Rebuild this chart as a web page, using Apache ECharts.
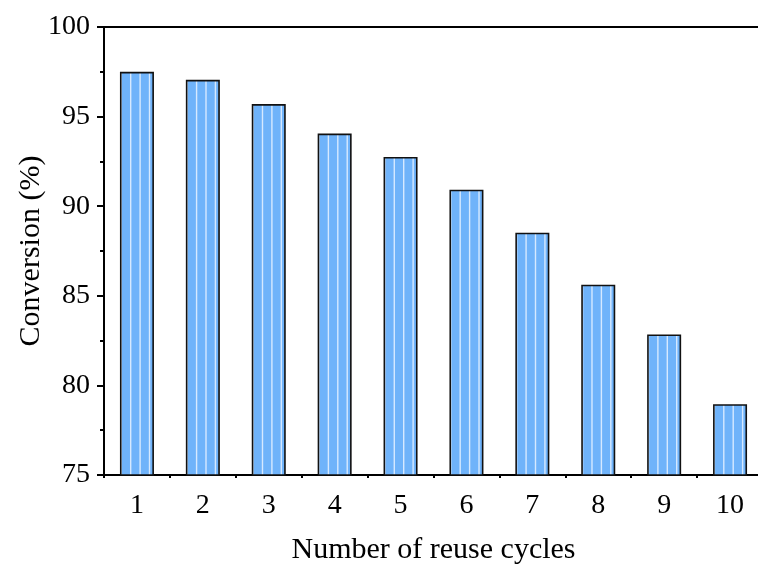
<!DOCTYPE html>
<html>
<head>
<meta charset="utf-8">
<script src="https://cdn.jsdelivr.net/npm/echarts@6/dist/echarts.min.js"></script>
<style>html,body{margin:0;padding:0;background:#fff;}#chart{width:758px;height:566px;}</style>
</head>
<body>
<div id="chart"></div>
<script>
var categories = ['1','2','3','4','5','6','7','8','9','10'];
var conversion = [97.5, 97.05, 95.7, 94.05, 92.75, 90.92, 88.52, 85.62, 82.84, 78.95];
var yTicks = [75, 80, 85, 90, 95, 100];

var FONT = '"Liberation Serif", "Times New Roman", serif';
var gridLeft = 104, gridWidth = 659;
var step = gridWidth / categories.length;

// striped fill pattern
var pat = document.createElement('canvas');
pat.width = gridWidth; pat.height = 4;
var pc = pat.getContext('2d');
pc.fillStyle = '#6fb3fa';
pc.fillRect(0, 0, pat.width, pat.height);
pc.fillStyle = '#d6e9ff';
var period = step / 7;
for (var x = 7.6 - period; x < pat.width; x += period) {
  pc.fillRect(x, 0, 1.4, pat.height);
}

var chart = echarts.init(document.getElementById('chart'));
chart.setOption({
  animation: false,
  backgroundColor: '#fff',
  grid: {left: gridLeft, top: 27, width: gridWidth, height: 448, outerBoundsMode: 'none', containLabel: false},
  xAxis: [{
    type: 'category',
    data: categories,
    position: 'bottom',
    name: 'Number of reuse cycles',
    nameLocation: 'middle',
    nameGap: 60,
    nameMoveOverlap: false,
    nameTextStyle: {fontFamily: FONT, fontSize: 30, color: '#000'},
    axisLine: {lineStyle: {color: '#000', width: 2}},
    axisTick: {alignWithLabel: true, length: 7, lineStyle: {color: '#000', width: 2}},
    axisLabel: {fontFamily: FONT, fontSize: 28, color: '#000', margin: 17},
    splitLine: {show: false}
  }, {
    type: 'category',
    data: categories,
    position: 'bottom',
    axisLine: {show: false},
    axisTick: {show: true, length: 3, lineStyle: {color: '#000', width: 2}},
    axisLabel: {show: false},
    splitLine: {show: false}
  }, {
    type: 'category',
    data: categories,
    position: 'top',
    axisLine: {lineStyle: {color: '#000', width: 2}},
    axisTick: {show: false},
    axisLabel: {show: false},
    splitLine: {show: false}
  }],
  yAxis: {
    type: 'value',
    min: yTicks[0],
    max: yTicks[yTicks.length - 1],
    interval: 5,
    name: 'Conversion (%)',
    nameLocation: 'middle',
    nameGap: 58,
    nameMoveOverlap: false,
    nameTextStyle: {fontFamily: FONT, fontSize: 30, color: '#000'},
    axisLine: {show: true, lineStyle: {color: '#000', width: 2}},
    axisTick: {show: true, length: 7, lineStyle: {color: '#000', width: 2}},
    minorTick: {show: true, splitNumber: 2, length: 4, lineStyle: {color: '#000', width: 2}},
    axisLabel: {fontFamily: FONT, fontSize: 28, color: '#000', margin: 14},
    splitLine: {show: false}
  },
  series: [{
    type: 'bar',
    data: conversion,
    barWidth: 34,
    itemStyle: {
      color: {image: pat, repeat: 'repeat'},
      borderColor: '#111',
      borderWidth: 1.6
    }
  }]
});
</script>
</body>
</html>
